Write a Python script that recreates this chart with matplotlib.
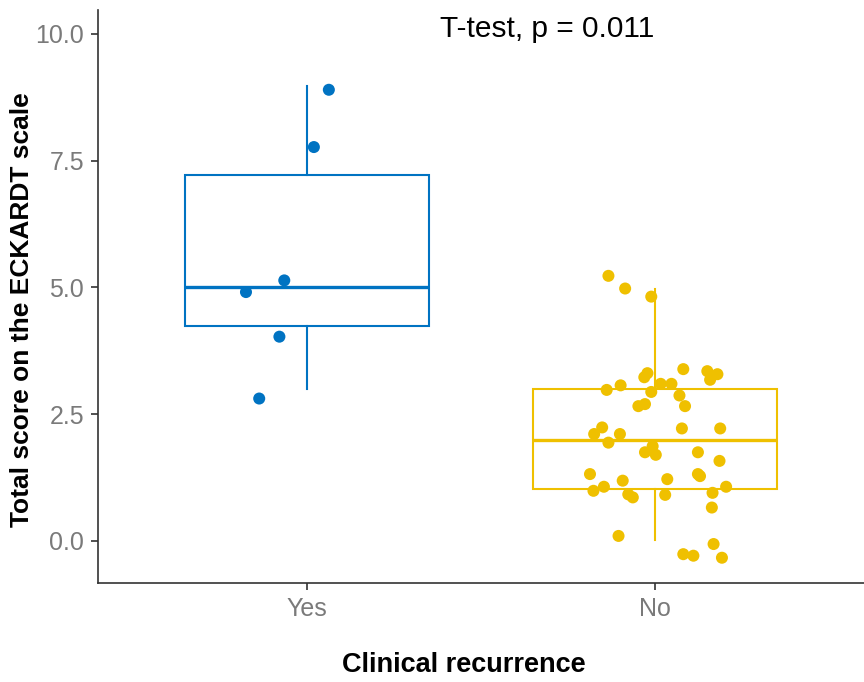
import matplotlib
matplotlib.use("Agg")
import matplotlib.pyplot as plt

plt.rcParams['font.family'] = ['Liberation Sans', 'DejaVu Sans']

categories = ["Yes", "No"]
colors = ["#0073C2", "#EFC000"]

# box statistics (whislo, q1, med, q3, whishi)
box_yes = [3.0, 4.25, 5.0, 7.22, 8.97]
box_no = [0.02, 1.02, 2.0, 3.0, 4.98]

# jittered points: x positions (1 = Yes, 2 = No) and values
yes_x = [1.063, 1.020, 0.935, 0.825, 0.921, 0.863]
yes_y = [8.90, 7.77, 5.14, 4.91, 4.03, 2.81]

no_x = [1.866, 1.914, 1.989, 1.978, 1.969, 2.081, 2.150, 2.179, 2.158, 1.861,
        1.901, 2.016, 2.047, 1.989, 2.070, 2.086, 1.952, 1.971, 1.848, 1.825,
        1.899, 1.866, 2.077, 2.187, 1.993, 1.971, 2.002, 2.123, 2.185, 1.813,
        1.907, 2.035, 2.123, 2.129, 1.823, 1.853, 1.923, 1.936, 2.029, 2.165,
        2.204, 2.163, 1.895, 2.168, 2.081, 2.110, 2.192]
no_y = [5.23, 4.98, 4.82, 3.31, 3.23, 3.39, 3.35, 3.29, 3.18, 2.98,
        3.07, 3.10, 3.10, 2.94, 2.87, 2.66, 2.66, 2.70, 2.24, 2.11,
        2.11, 1.94, 2.22, 2.22, 1.87, 1.75, 1.70, 1.75, 1.58, 1.32,
        1.19, 1.22, 1.32, 1.28, 0.99, 1.07, 0.92, 0.86, 0.91, 0.95,
        1.07, 0.66, 0.10, -0.06, -0.26, -0.29, -0.33]

annotation = "T-test, p = 0.011"
xlabel = "Clinical recurrence"
ylabel = "Total score on the ECKARDT scale"
yticks = [0.0, 2.5, 5.0, 7.5, 10.0]

fig = plt.figure(figsize=(8.64, 6.82), dpi=100)
ax = fig.add_axes([98/864, 1-583/682, 1-98/864, (583-10)/682])

for i, (b, c) in enumerate(zip([box_yes, box_no], colors)):
    stats = [dict(whislo=b[0], q1=b[1], med=b[2], q3=b[3], whishi=b[4], fliers=[])]
    ax.bxp(stats, positions=[i + 1], widths=0.7, showcaps=False, showfliers=False,
           patch_artist=True,
           boxprops=dict(facecolor="white", edgecolor=c, linewidth=1.5),
           whiskerprops=dict(color=c, linewidth=1.5),
           medianprops=dict(color=c, linewidth=2.4),
           zorder=2)

ax.scatter(yes_x, yes_y, s=75, color=colors[0], edgecolors="none", zorder=3)
ax.scatter(no_x, no_y, s=75, color=colors[1], edgecolors="none", zorder=3)

ax.set_xlim(0.4, 2.6)
ax.set_ylim((541-583)/50.7, (541-10)/50.7)
ax.set_xticks([1, 2])
ax.set_xticklabels(categories)
ax.set_yticks(yticks)
ax.set_yticklabels([f"{v:.1f}" for v in yticks])

for s in ["top", "right"]:
    ax.spines[s].set_visible(False)
for s in ["left", "bottom"]:
    ax.spines[s].set_color("#333333")
    ax.spines[s].set_linewidth(1.2)
ax.tick_params(axis="both", colors="#333333", length=5, width=1.2,
               labelsize=18, labelcolor="#7a7a7a", pad=5)

ax.set_xlabel(xlabel, fontsize=19.5, fontweight="bold", va="center")
ax.xaxis.set_label_coords((464-98)/766, (583-665)/573)
ax.set_ylabel(ylabel, fontsize=19, fontweight="bold", va="center")
ax.yaxis.set_label_coords((22-98)/766, (583-310)/573)

ax.text(1.69, 10.1, annotation, fontsize=21.5, ha="center", va="center", color="black")

fig.savefig("out.png", dpi=100)
